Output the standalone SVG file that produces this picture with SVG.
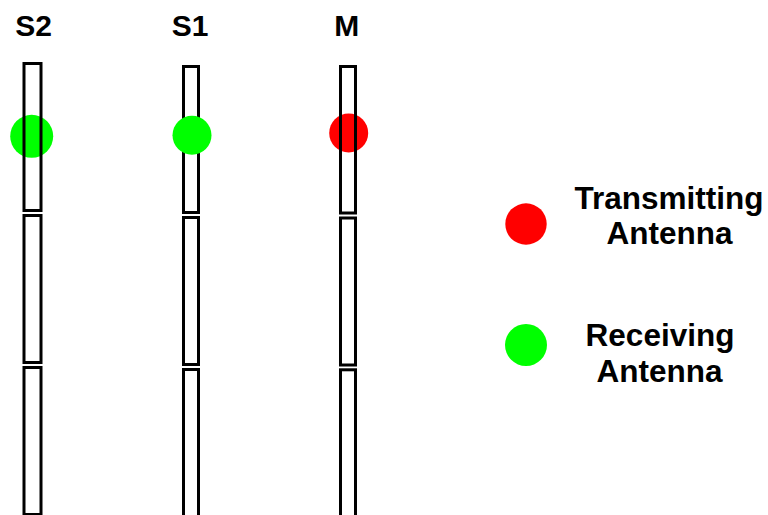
<svg xmlns="http://www.w3.org/2000/svg" width="768" height="515" viewBox="0 0 768 515">
<style>
.lbl{font-family:"Liberation Sans",Arial,sans-serif;font-weight:bold;font-size:30px;fill:#000;text-anchor:middle}
.big{font-size:31.5px}
.seg{fill:none;stroke:#000;stroke-width:3}
.tx{fill:#ff0000}
.rx{fill:#00ff00}
</style>
<rect width="768" height="515" fill="#fff"/>
<g id="S2">
<text class="lbl" x="33.5" y="36">S2</text>
<circle class="rx" cx="31.7" cy="136.3" r="21.5"/>
<rect class="seg" x="24" y="63.5" width="17" height="147"/>
<rect class="seg" x="24" y="215.5" width="17" height="147"/>
<rect class="seg" x="24" y="367.5" width="17" height="147"/>
</g>
<g id="S1">
<text class="lbl" x="190" y="36">S1</text>
<rect class="seg" x="183.5" y="66.5" width="15" height="146"/>
<rect class="seg" x="183.5" y="217.5" width="15" height="147"/>
<rect class="seg" x="183.5" y="369.5" width="15" height="147"/>
<circle class="rx" cx="192" cy="135.3" r="19.5"/>
</g>
<g id="M">
<text class="lbl" x="346.7" y="36">M</text>
<circle class="tx" cx="348.7" cy="133" r="19.5"/>
<rect class="seg" x="340.5" y="66.5" width="15" height="146.5"/>
<rect class="seg" x="340.5" y="218" width="15" height="147"/>
<rect class="seg" x="340.5" y="369.8" width="15" height="147"/>
</g>
<g id="legend-tx">
<circle class="tx" cx="526" cy="224" r="20.7"/>
<text class="lbl big" x="669" y="209">Transmitting</text>
<text class="lbl big" x="669.5" y="244">Antenna</text>
</g>
<g id="legend-rx">
<circle class="rx" cx="526" cy="345" r="21"/>
<text class="lbl big" x="660" y="346">Receiving</text>
<text class="lbl big" x="659.5" y="381.5">Antenna</text>
</g>
<g id="connectors"></g>
</svg>
